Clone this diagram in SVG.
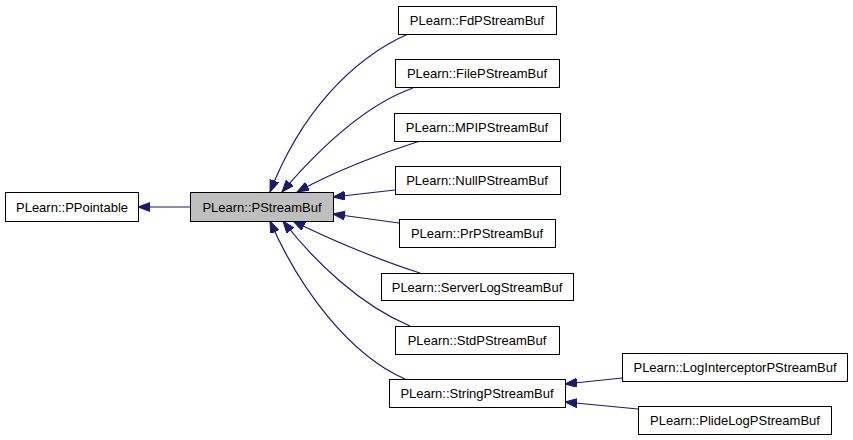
<svg xmlns="http://www.w3.org/2000/svg" width="853" height="440" viewBox="0 0 853 440">
<defs>
<style>
.box{fill:#ffffff;stroke:#000000;stroke-width:1}
.hl{fill:#bfbfbf;stroke:#000000;stroke-width:1}
text{font-family:"Liberation Sans",Arial,sans-serif;font-size:13px;fill:#000000;text-anchor:middle}
.e{fill:none;stroke:#191970;stroke-width:1.2;marker-end:url(#ah)}
</style>
<marker id="ah" markerUnits="userSpaceOnUse" markerWidth="14" markerHeight="12" refX="12" refY="4.5" orient="auto">
<path d="M0,0 L12,4.5 L0,9 z" fill="#191970" stroke="#191970" stroke-width="1"/>
</marker>
</defs>
<rect width="853" height="440" fill="#ffffff"/>
<g id="edges">
<path class="e" d="M190,207 L138,207"/>
<path class="e" d="M408,34 C350,60 300,115 270,192"/>
<path class="e" d="M413,88 C365,105 318,150 282,192"/>
<path class="e" d="M420,141 C385,152 335,171 297,192"/>
<path class="e" d="M395,190 L333,197"/>
<path class="e" d="M399,223 L333,214"/>
<path class="e" d="M420,273 C385,262 335,242 293,221"/>
<path class="e" d="M410,326 C360,305 315,262 283,221"/>
<path class="e" d="M405,379 C350,355 300,290 270,221"/>
<path class="e" d="M622,378 L565,384"/>
<path class="e" d="M638,409 L565,402"/>
</g>
<g id="PPointable"><rect class="box" x="5.5" y="192.5" width="133" height="29"/><text x="72" y="212">PLearn::PPointable</text></g>
<g id="PStreamBuf"><rect class="hl" x="190.5" y="192.5" width="143" height="29"/><text x="262" y="212">PLearn::PStreamBuf</text></g>
<g id="FdPStreamBuf"><rect class="box" x="398.5" y="6.5" width="158" height="28"/><text x="477" y="25">PLearn::FdPStreamBuf</text></g>
<g id="FilePStreamBuf"><rect class="box" x="395.5" y="59.5" width="164" height="28"/><text x="477" y="78">PLearn::FilePStreamBuf</text></g>
<g id="MPIPStreamBuf"><rect class="box" x="394.5" y="113.5" width="166" height="28"/><text x="477" y="132">PLearn::MPIPStreamBuf</text></g>
<g id="NullPStreamBuf"><rect class="box" x="395.5" y="166.5" width="165" height="28"/><text x="477" y="185">PLearn::NullPStreamBuf</text></g>
<g id="PrPStreamBuf"><rect class="box" x="399.5" y="219.5" width="156" height="28"/><text x="477" y="238">PLearn::PrPStreamBuf</text></g>
<g id="ServerLogStreamBuf"><rect class="box" x="381.5" y="273.5" width="192" height="27"/><text x="477" y="292">PLearn::ServerLogStreamBuf</text></g>
<g id="StdPStreamBuf"><rect class="box" x="395.5" y="326.5" width="164" height="28"/><text x="477" y="345">PLearn::StdPStreamBuf</text></g>
<g id="StringPStreamBuf"><rect class="box" x="389.5" y="379.5" width="176" height="28"/><text x="477" y="398">PLearn::StringPStreamBuf</text></g>
<g id="LogInterceptorPStreamBuf"><rect class="box" x="622.5" y="353.5" width="225" height="28"/><text x="735" y="372">PLearn::LogInterceptorPStreamBuf</text></g>
<g id="PlideLogPStreamBuf"><rect class="box" x="638.5" y="406.5" width="193" height="28"/><text x="735" y="425">PLearn::PlideLogPStreamBuf</text></g>
</svg>
